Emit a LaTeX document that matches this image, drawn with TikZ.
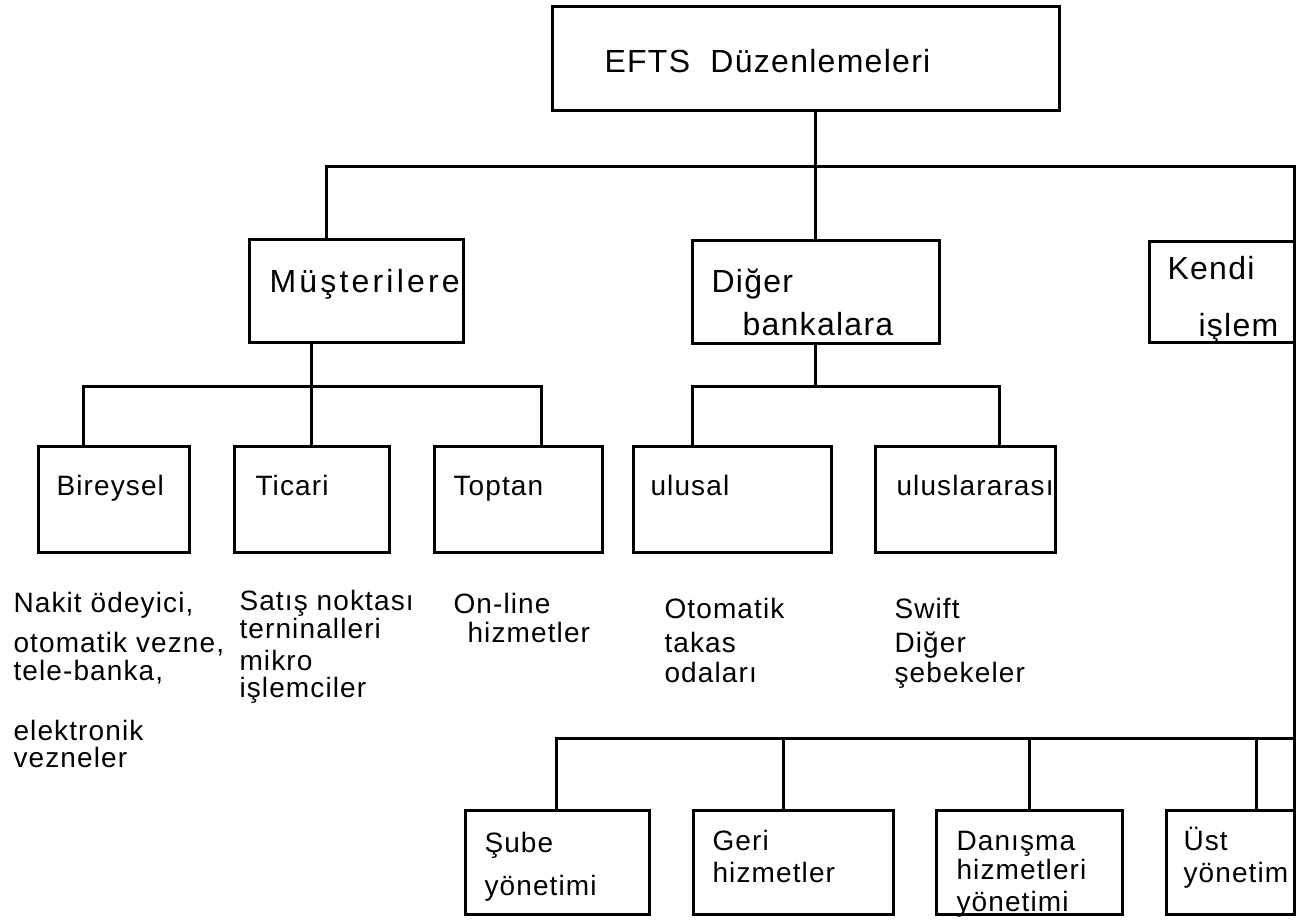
\documentclass[tikz,border=0pt]{standalone}
\usepackage{fontspec}
\setmainfont{Liberation Sans}[LetterSpace=4.0]
\usetikzlibrary{fit}

\tikzset{every picture/.style={line width=1.5pt}}
\tikzset{
  box/.style={draw, inner sep=0pt},
  lbl/.style={anchor=base west, inner sep=0pt, font=\fontsize{14}{16}\selectfont},
  biglbl/.style={lbl, font=\fontsize{16}{19}\selectfont}
}

\begin{document}
\begin{tikzpicture}[x=0.5pt,y=0.5pt,yscale=-1,xscale=1]
\useasboundingbox (0,0) rectangle (1306,922);

%Shape: Rectangle [top]
\node[box, fit={(552,6) (1059,110)}] (efts) {};
%Shape: Rectangle [level 2]
\node[box, fit={(249,239) (463,342)}] (mus) {};
\node[box, fit={(692,240) (939,343)}] (dig) {};
\node[box, fit={(1149,241) (1294,342)}] (ken) {};
%Shape: Rectangle [level 3]
\node[box, fit={(38,446) (189,552)}] (bir) {};
\node[box, fit={(234,446) (389,552)}] (tic) {};
\node[box, fit={(434,446) (602,552)}] (topt) {};
\node[box, fit={(633,446) (831,552)}] (ulu) {};
\node[box, fit={(875,446) (1055,552)}] (uls) {};
%Shape: Rectangle [bottom row]
\node[box, fit={(465,810) (649,914)}] (sube) {};
\node[box, fit={(693,810) (893,914)}] (geri) {};
\node[box, fit={(936,810) (1122,914)}] (dan) {};
\node[box, fit={(1166,810) (1294,914)}] (ust) {};

%Bus points
\coordinate (busL) at (326,166);
\coordinate (busR) at (1294,166);
\coordinate (musL) at (83,386);
\coordinate (musR) at (541,386);
\coordinate (digL) at (692,386);
\coordinate (digR) at (999,386);
\coordinate (b1) at (556,738);
\coordinate (b2) at (783,738);
\coordinate (b3) at (1029,738);
\coordinate (b4) at (1256,738);

%Straight Lines
\draw (efts.south -| dig.north) -- (dig.north);
\draw (mus.north -| busL) -- (busL) -- (busR) -- (ust.south -| busR);
\draw (mus.south -| tic.north) -- (tic.north);
\draw (bir.north -| musL) -- (musL) -- (musR) -- (topt.north -| musR);
\draw (dig.south) -- (dig.south |- digL);
\draw (ulu.north -| digL) -- (digL) -- (digR) -- (uls.north -| digR);
\draw (sube.north -| b1) -- (b1) -- (b1 -| busR);
\draw (b2) -- (geri.north -| b2);
\draw (b3) -- (dan.north -| b3);
\draw (b4) -- (ust.north -| b4);

% Text Node
\node[biglbl] (efts-t) at (603,72) {EFTS\ \ Düzenlemeleri};
% Text Node
\node[biglbl] (mus-t) at (268,292) {\addfontfeatures{LetterSpace=10.0}Müşterilere};
% Text Node
\node[biglbl] (dig-t1) at (710,292) {Diğer};
\node[biglbl] (dig-t2) at (741,335) {bankalara};
% Text Node
\node[biglbl] (ken-t1) at (1166,279) {Kendi};
\node[biglbl] (ken-t2) at (1197,336) {işlem};
% Text Node
\node[lbl] (bir-t) at (55,495) {Bireysel};
\node[lbl] (tic-t) at (254,495) {Ticari};
\node[lbl] (topt-t) at (452,495) {Toptan};
\node[lbl] (ulu-t) at (649,495) {ulusal};
\node[lbl] (uls-t) at (895,495) {uluslararası};
% Text Node
\node[lbl] (n1) at (12,612) {Nakit ödeyici,};
\node[lbl] (n2) at (12,652) {otomatik vezne,};
\node[lbl] (n3) at (12,680) {tele-banka,};
\node[lbl] (n4) at (12,740) {elektronik};
\node[lbl] (n5) at (12,767) {vezneler};
% Text Node
\node[lbl] (s1) at (238,610) {Satış noktası};
\node[lbl] (s2) at (238,638) {terninalleri};
\node[lbl] (s3) at (238,670) {mikro};
\node[lbl] (s4) at (238,697) {işlemciler};
% Text Node
\node[lbl] (o1) at (452,613) {On-line};
\node[lbl] (o2) at (466,642) {hizmetler};
% Text Node
\node[lbl] (k1) at (663,618) {Otomatik};
\node[lbl] (k2) at (663,652) {takas};
\node[lbl] (k3) at (663,682) {odaları};
% Text Node
\node[lbl] (w1) at (893,618) {Swift};
\node[lbl] (w2) at (893,652) {Diğer};
\node[lbl] (w3) at (893,682) {şebekeler};
% Text Node
\node[lbl] (sube-t1) at (483,852) {Şube};
\node[lbl] (sube-t2) at (483,895) {yönetimi};
\node[lbl] (geri-t1) at (711,850) {Geri};
\node[lbl] (geri-t2) at (711,882) {hizmetler};
\node[lbl] (dan-t1) at (955,850) {Danışma};
\node[lbl] (dan-t2) at (955,879) {hizmetleri};
\node[lbl] (dan-t3) at (955,911) {yönetimi};
\node[lbl] (ust-t1) at (1182,850) {Üst};
\node[lbl] (ust-t2) at (1182,882) {yönetim};

\end{tikzpicture}
\end{document}
